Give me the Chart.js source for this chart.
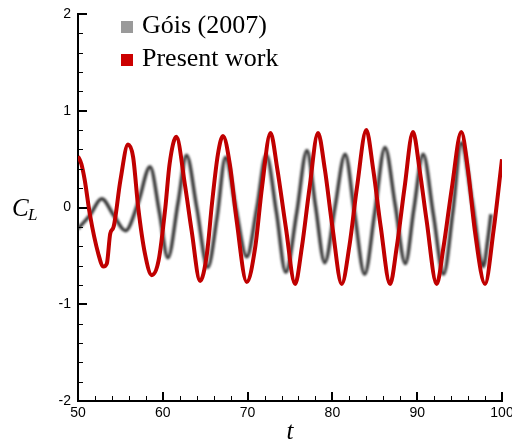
<!DOCTYPE html>
<html>
<head>
<meta charset="utf-8">
<script src="https://cdn.jsdelivr.net/npm/chart.js@4/dist/chart.umd.min.js"></script>
<style>
  html, body { margin: 0; padding: 0; background: #fff; }
  #wrap { width: 512px; height: 443px; }
</style>
</head>
<body>
<div id="wrap"><canvas id="clChart" width="512" height="443"></canvas></div>
<script>
// Lift coefficient history

// Góis (2007)
const goisT = [50, 51.4, 52.8, 54.2, 55.6, 57.1, 58.5, 59.6, 60.6, 61.8,
    62.8, 64.0, 65.3, 66.4, 67.4, 68.6, 69.9, 71.1, 72.2, 73.4,
    74.5, 75.8, 77.0, 78.0, 79.1, 80.3, 81.5, 82.6, 83.8, 85.0,
    86.2, 87.4, 88.6, 89.6, 90.7, 91.9, 93.1, 94.2, 95.2, 96.5,
    97.8, 98.3, 98.7];
const goisCL = [-0.22, -0.08, 0.09, -0.08, -0.24, 0.05, 0.42, -0.05, -0.52, 0.05,
    0.54, 0.0, -0.62, -0.10, 0.52, 0.0, -0.51, 0.0, 0.54, -0.05,
    -0.67, -0.05, 0.59, 0.02, -0.57, 0.0, 0.55, -0.05, -0.69, -0.05,
    0.62, 0.03, -0.58, -0.02, 0.55, -0.07, -0.69, -0.05, 0.67, 0.05,
    -0.61, -0.35, -0.07];

// Present work
const presentT = [50, 50.4, 50.8, 51.4, 52.4, 53.0, 53.4, 53.8, 54.2, 55.0,
    55.9, 56.5, 57.1, 57.9, 58.7, 59.5, 60.3, 60.8, 61.6, 62.6,
    63.4, 64.4, 65.2, 65.8, 66.5, 67.1, 67.9, 68.7, 69.9, 70.9,
    71.7, 72.7, 73.5, 74.5, 75.6, 76.4, 77.3, 78.3, 79.1, 80.0,
    81.1, 82.0, 82.9, 84.0, 84.8, 85.7, 86.8, 87.6, 88.5, 89.5,
    90.3, 91.1, 92.3, 93.1, 94.1, 95.2, 96.0, 96.8, 98.0, 99.0,
    100];
const presentCL = [0.53, 0.45, 0.28, -0.07, -0.48, -0.61, -0.58, -0.27, -0.2, 0.28,
    0.65, 0.52, 0.0, -0.48, -0.70, -0.55, 0.0, 0.45, 0.73, 0.24,
    -0.24, -0.76, -0.48, 0.04, 0.55, 0.74, 0.45, -0.13, -0.77, -0.41,
    0.21, 0.77, 0.40, -0.20, -0.79, -0.41, 0.20, 0.77, 0.40, -0.20,
    -0.79, -0.40, 0.21, 0.80, 0.40, -0.20, -0.79, -0.40, 0.20, 0.78,
    0.38, -0.13, -0.79, -0.41, 0.21, 0.78, 0.38, -0.24, -0.79, -0.24,
    0.50];

// axes
const xRange = [50, 100];
const yRange = [-2, 2];
const xMajorStep = 10, xMinorStep = 2;
const yMajorStep = 1, yMinorStep = 0.2;

const seriesLabels = ['Góis (2007)', 'Present work'];

function toPoints(xs, ys) {
    return xs.map((x, i) => ({ x: x, y: ys[i] }));
}

// inward tick marks like the original plot
const innerTicks = {
    id: 'innerTicks',
    afterDraw(chart) {
        const { ctx, chartArea: a, scales: { x, y } } = chart;
        ctx.save();
        ctx.strokeStyle = '#000';
        for (let v = xRange[0]; v <= xRange[1] + 1e-6; v += xMinorStep) {
            const major = Math.abs(v / xMajorStep - Math.round(v / xMajorStep)) < 1e-6;
            const px = Math.round(x.getPixelForValue(v));
            ctx.lineWidth = major ? 2 : 1;
            ctx.beginPath();
            ctx.moveTo(px + (major ? 0 : 0.5), a.bottom);
            ctx.lineTo(px + (major ? 0 : 0.5), a.bottom - (major ? 9 : 5));
            ctx.stroke();
        }
        for (let v = yRange[0]; v <= yRange[1] + 1e-6; v += yMinorStep) {
            const major = Math.abs(v / yMajorStep - Math.round(v / yMajorStep)) < 1e-6;
            const py = Math.round(y.getPixelForValue(v));
            ctx.lineWidth = major ? 2 : 1;
            ctx.beginPath();
            ctx.moveTo(a.left, py + (major ? 0 : 0.5));
            ctx.lineTo(a.left + (major ? 9 : 5), py + (major ? 0 : 0.5));
            ctx.stroke();
        }
        ctx.restore();
    }
};

// axis titles (C_L with subscript, t)
const axisTitles = {
    id: 'axisTitles',
    afterDraw(chart) {
        const { ctx, chartArea: a, scales: { y } } = chart;
        const yMid = y.getPixelForValue(0);
        ctx.save();
        ctx.fillStyle = '#000';
        ctx.textBaseline = 'alphabetic';
        ctx.font = 'italic 25px "Liberation Serif"';
        ctx.fillText('C', 12, yMid + 8);
        ctx.font = 'italic 17px "Liberation Serif"';
        ctx.fillText('L', 28, yMid + 12);
        ctx.font = 'italic 25px "Liberation Serif"';
        ctx.textAlign = 'center';
        ctx.fillText('t', (a.left + a.right) / 2, chart.height - 4);
        ctx.restore();
    }
};

// legend inside the plot, square swatches
const boxLegend = {
    id: 'boxLegend',
    afterDraw(chart) {
        const { ctx, chartArea: a } = chart;
        ctx.save();
        ctx.font = '26px "Liberation Serif"';
        ctx.textBaseline = 'alphabetic';
        chart.data.datasets.forEach((ds, i) => {
            const base = a.top + 19 + i * 33;
            ctx.fillStyle = ds.swatch;
            ctx.fillRect(a.left + 43, base - 12, 12, 12);
            ctx.fillStyle = '#000';
            ctx.fillText(ds.label, a.left + 64, base);
        });
        ctx.restore();
    }
};

const blurLine = {
    id: 'blurLine',
    beforeDatasetDraw(chart, args) {
        const ds = chart.data.datasets[args.index];
        chart.ctx.save();
        if (ds.blur) chart.ctx.filter = 'blur(' + ds.blur + 'px)';
    },
    afterDatasetDraw(chart) {
        chart.ctx.restore();
    }
};

const tickFont = { family: '"Liberation Sans", Arial', size: 14 };

new Chart(document.getElementById('clChart'), {
    type: 'line',
    data: {
        datasets: [{
            label: seriesLabels[0],
            data: toPoints(goisT, goisCL),
            borderColor: 'rgba(35,35,35,0.9)',
            swatch: '#9a9a9a',
            borderWidth: 3.5,
            blur: 1.1,
            pointRadius: 0,
            cubicInterpolationMode: 'monotone',
            order: 2
        }, {
            label: seriesLabels[1],
            data: toPoints(presentT, presentCL),
            borderColor: '#c00000',
            swatch: '#cc0000',
            borderWidth: 4,
            pointRadius: 0,
            cubicInterpolationMode: 'monotone',
            order: 1
        }]
    },
    options: {
        responsive: false,
        animation: false,
        devicePixelRatio: 1,
        layout: { padding: { top: 14, right: 10, left: 0, bottom: 0 } },
        plugins: { legend: { display: false }, tooltip: { enabled: false } },
        scales: {
            x: {
                type: 'linear',
                min: xRange[0],
                max: xRange[1],
                grid: { display: false, drawTicks: false },
                border: { display: true, color: '#000', width: 2 },
                ticks: { stepSize: xMajorStep, color: '#000', font: tickFont, padding: 4, maxRotation: 0 },
                afterFit(s) {
                    s.height = 42;
                    s.paddingLeft = 0; s.paddingRight = 0;
                }
            },
            y: {
                type: 'linear',
                min: yRange[0],
                max: yRange[1],
                grid: { display: false, drawTicks: false },
                border: { display: true, color: '#000', width: 2 },
                ticks: { stepSize: yMajorStep, color: '#000', font: tickFont, padding: 7 },
                afterFit(s) {
                    s.width = 78;
                    s.paddingTop = 0; s.paddingBottom = 0;
                }
            }
        }
    },
    plugins: [blurLine, innerTicks, axisTitles, boxLegend]
});
</script>
</body>
</html>
